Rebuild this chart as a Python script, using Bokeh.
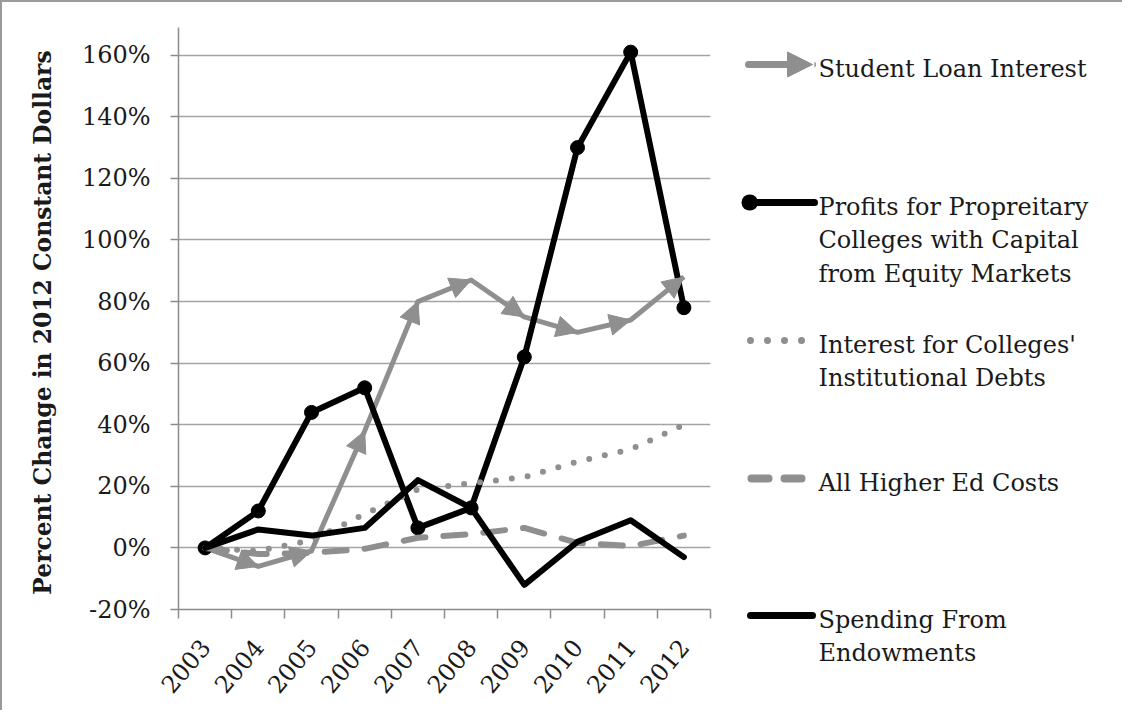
import math
from bokeh.plotting import figure
from bokeh.models import (Range1d, FixedTicker, PrintfTickFormatter, CustomJSTickFormatter,
                          ColumnDataSource, Arrow, NormalHead, Label)
from bokeh.core.templates import get_env
from bokeh.embed import file_html
from bokeh.resources import INLINE

# ---------------- data ----------------
years = ["2003", "2004", "2005", "2006", "2007", "2008", "2009", "2010", "2011", "2012"]
student_loan = [0, -6, -1, 38, 80, 87, 75, 70, 74, 88]
profits = [0, 12, 44, 52, 6.5, 13, 62, 130, 161, 78]
interest_debts = [0, -1, 2.5, 11, 19, 21, 23, 28, 32, 40]
higher_ed = [0, -2, -1.6, -0.3, 3.3, 4.5, 6.5, 1.6, 0.6, 4]
endowments = [0, 6, 4, 6.5, 22, 13, -12, 2, 9, -3]
y_ticks = [-20, 0, 20, 40, 60, 80, 100, 120, 140, 160]
legend_labels = [
    "Student Loan Interest",
    "Profits for Propreitary\nColleges with Capital\nfrom Equity Markets",
    "Interest for Colleges'\nInstitutional Debts",
    "All Higher Ed Costs",
    "Spending From\nEndowments",
]
y_title = "Percent Change in  2012 Constant Dollars"

GRAY = "#8f8f8f"
BLACK = "#000000"
AXIS = "#8c8c8c"
FONT = "DejaVu Serif"
TXT = "#1a1a1a"

n = len(years)
xs = [i + 0.5 for i in range(n)]

FT, FB = 25, 101   # frame borders (top / bottom)
H = 708

p = figure(name="main", width=720, height=H, x_range=Range1d(0, n), y_range=Range1d(-20, 169),
           output_backend="svg", toolbar_location=None,
           min_border_left=176, min_border_right=12, min_border_top=FT, min_border_bottom=FB)
p.outline_line_color = None

# axes
p.xgrid.grid_line_color = None
p.ygrid.grid_line_color = "#a3a3a3"
p.ygrid.grid_line_width = 1.5
p.ygrid.ticker = FixedTicker(ticks=y_ticks)

p.yaxis.ticker = FixedTicker(ticks=y_ticks)
p.yaxis.formatter = PrintfTickFormatter(format="%d%%")
p.yaxis.bounds = (-20, 169)
p.xaxis.ticker = FixedTicker(ticks=xs, minor_ticks=list(range(n + 1)))
p.xaxis.formatter = CustomJSTickFormatter(args=dict(labels=years),
                                          code="return labels[Math.floor(tick)]")
p.xaxis.major_label_orientation = math.radians(50)

for ax in (p.xaxis, p.yaxis):
    ax.axis_line_color = AXIS
    ax.axis_line_width = 1.5
    ax.major_label_text_font = FONT
    ax.major_label_text_font_size = "24px"
    ax.major_label_text_color = TXT

p.yaxis.major_tick_line_color = AXIS
p.yaxis.major_tick_line_width = 1.5
p.yaxis.major_tick_out = 8
p.yaxis.major_tick_in = 0
p.yaxis.minor_tick_line_color = None
p.yaxis.major_label_standoff = 20
p.yaxis.axis_label = y_title
p.yaxis.axis_label_text_font = FONT
p.yaxis.axis_label_text_font_style = "bold"
p.yaxis.axis_label_text_font_size = "23.4px"
p.yaxis.axis_label_text_color = TXT
p.yaxis.axis_label_standoff = 22

p.xaxis.major_tick_line_color = None
p.xaxis.major_tick_out = 0
p.xaxis.major_tick_in = 0
p.xaxis.minor_tick_line_color = AXIS
p.xaxis.minor_tick_line_width = 1.5
p.xaxis.minor_tick_out = 9
p.xaxis.minor_tick_in = 0
p.xaxis.major_label_standoff = 24

# series
p.line(xs, student_loan, line_color=GRAY, line_width=5, line_join="round")
seg = ColumnDataSource(dict(x0=xs[:-1], y0=student_loan[:-1], x1=xs[1:], y1=student_loan[1:]))
p.add_layout(Arrow(end=NormalHead(size=21, fill_color=GRAY, line_color=GRAY, line_width=1),
                   x_start="x0", y_start="y0", x_end="x1", y_end="y1",
                   source=seg, line_alpha=0))

p.line(xs, profits, line_color=BLACK, line_width=6, line_join="round", line_cap="round")
p.scatter(xs, profits, size=14, fill_color=BLACK, line_color=BLACK)

p.line(xs, interest_debts, line_color=GRAY, line_width=6, line_dash="0 16", line_cap="round")
p.line(xs, higher_ed, line_color=GRAY, line_width=6, line_dash="22 18", line_cap="round")
p.line(xs, endowments, line_color=BLACK, line_width=6, line_join="round", line_cap="round")

# ---------------- legend panel (coordinates = panel pixels) ----------------
lg = figure(name="legend", width=400, height=H, x_range=Range1d(0, 400), y_range=Range1d(H, 0),
            output_backend="svg", toolbar_location=None,
            min_border_left=0, min_border_right=0, min_border_top=0, min_border_bottom=0)
lg.axis.visible = False
lg.grid.grid_line_color = None
lg.outline_line_color = None

gy = [62, 200, 338, 476, 613]   # legend row positions (pixels)


def seg_line(x0, x1, y, **kw):
    lg.add_layout(Arrow(end=None, x_start=x0, y_start=y, x_end=x1, y_end=y, **kw))


# Student Loan Interest: arrow
lg.add_layout(Arrow(end=NormalHead(size=25, fill_color=GRAY, line_color=GRAY, line_width=1),
                    x_start=26, y_start=gy[0], x_end=90, y_end=gy[0],
                    line_color=GRAY, line_width=7, line_cap="round"))
# Profits: line + circle at left end
seg_line(27, 92, gy[1], line_color=BLACK, line_width=7, line_cap="round")
seg_line(27, 27.5, gy[1], line_color=BLACK, line_width=16, line_cap="round")
# Interest: dotted
seg_line(28, 82, gy[2], line_color=GRAY, line_width=7, line_dash="0 17", line_cap="round")
# Higher Ed: dashed
seg_line(29, 80, gy[3], line_color=GRAY, line_width=8, line_dash="17 16", line_cap="round")
# Endowments: solid
seg_line(28, 90, gy[4], line_color=BLACK, line_width=7, line_cap="round")

for lab, g in zip(legend_labels, gy):
    lg.add_layout(Label(x=96, y=g - 10, text=lab, text_font=FONT, text_font_size="24px",
                        text_color=TXT, text_baseline="top", text_align="left",
                        text_line_height=1.2))

# page: the two panels side by side inside a frame with a grey top/left border
page = get_env().from_string("""{% extends base %}
{% block contents %}
{% from macros import embed %}
<div style="display:flex;flex-direction:row;align-items:flex-start;width:max-content;border-top:2px solid #9a9a9a;border-left:2px solid #9a9a9a;">
{{ embed(roots.main) }}
{{ embed(roots.legend) }}
</div>
{% endblock %}
""")

open("out.html", "w").write(file_html([p, lg], INLINE, template=page))
